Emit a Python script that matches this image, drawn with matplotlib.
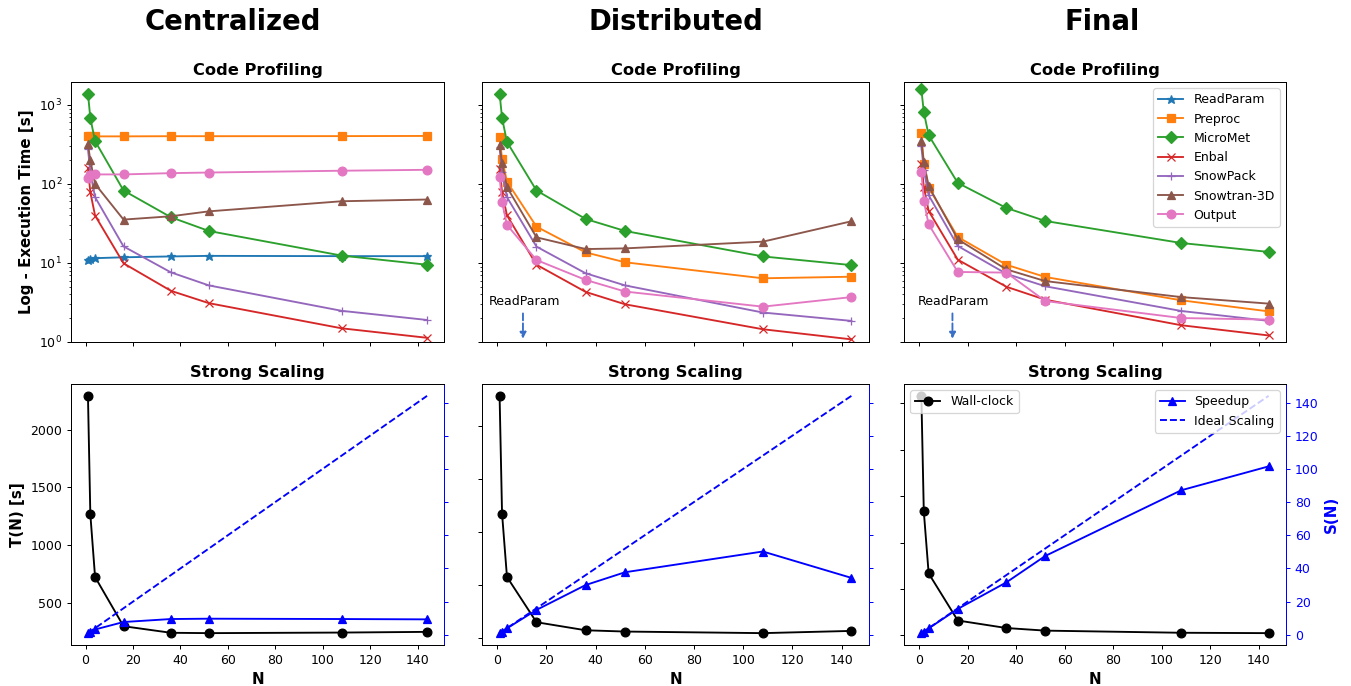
import matplotlib
matplotlib.use('Agg')
import matplotlib.pyplot as plt

# number of processes
n_procs = [1, 2, 4, 16, 36, 52, 108, 144]

# code profiling (seconds) per module, one dict per setup
cent = {
    'ReadParam':   [10.9, 11.3, 11.5, 11.8, 12.1, 12.3, 12.2, 12.2],
    'Preproc':     [400, 400, 400, 400, 402, 402, 403, 405],
    'MicroMet':    [1394, 684, 349, 82.6, 37.9, 25.4, 12.4, 9.5],
    'Enbal':       [160, 78.7, 39.8, 9.9, 4.44, 3.1, 1.49, 1.13],
    'SnowPack':    [280, 140, 68, 16.2, 7.6, 5.2, 2.48, 1.9],
    'Snowtran-3D': [317, 199, 100, 35.4, 39, 45, 60.4, 63.5],
    'Output':      [120, 131, 132, 132, 137, 139.5, 147, 151],
}
dist = {
    'ReadParam':   [0.6, 0.5, 0.45, 0.4, 0.4, 0.4, 0.4, 0.4],
    'Preproc':     [393, 208, 107, 28.8, 13.6, 10.2, 6.4, 6.7],
    'MicroMet':    [1394, 684, 340, 82.6, 36, 25.4, 12.1, 9.4],
    'Enbal':       [156, 79, 40, 9.5, 4.3, 3.0, 1.45, 1.08],
    'SnowPack':    [290, 140, 68, 16.1, 7.4, 5.2, 2.36, 1.85],
    'Snowtran-3D': [308, 184, 91, 21.1, 15, 15.3, 18.6, 33.7],
    'Output':      [122, 58.7, 30.3, 10.9, 6.1, 4.35, 2.8, 3.7],
}
final = {
    'ReadParam':   [0.6, 0.5, 0.45, 0.4, 0.4, 0.4, 0.4, 0.4],
    'Preproc':     [446, 181, 90, 21.3, 9.5, 6.65, 3.37, 2.44],
    'MicroMet':    [1578, 815, 413, 103, 49.7, 34, 17.9, 13.8],
    'Enbal':       [181, 92, 45.5, 11, 5.0, 3.43, 1.63, 1.21],
    'SnowPack':    [300, 150, 72, 16.4, 7.3, 5.07, 2.47, 1.85],
    'Snowtran-3D': [347, 190, 94, 19.9, 8.3, 5.9, 3.7, 3.06],
    'Output':      [142, 61, 30.8, 7.7, 7.55, 3.3, 2.01, 1.92],
}

# wall-clock and speedup
wall_cent = [2292, 1267, 723, 297, 240, 237, 242, 248]
wall_dist = [2283, 1173, 575, 148, 72, 60, 45, 66]
wall_final = [2579, 1336, 668, 161, 80, 52, 29, 25]
speed_cent = [1, 1.8, 3.2, 7.7, 9.5, 9.7, 9.5, 9.3]
speed_dist = [1, 1.9, 3.9, 15, 30, 37.7, 50.2, 34.3]
speed_final = [1, 1.93, 3.86, 15.6, 31.6, 47.5, 87.1, 101.5]

col_titles = ['Centralized', 'Distributed', 'Final']
markers = {'ReadParam': '*', 'Preproc': 's', 'MicroMet': 'D', 'Enbal': 'x',
           'SnowPack': '+', 'Snowtran-3D': '^', 'Output': 'o'}

W, H = 1351, 686
fig, axes = plt.subplots(2, 3, figsize=(W / 90, H / 90), dpi=90, sharex='col')

# axes boxes in pixels (left, right)
cols = [(71, 444), (482, 869), (904, 1286)]
rows = [(82, 342), (384, 645)]
for r, (top, bot) in enumerate(rows):
    for c, (l, rr) in enumerate(cols):
        axes[r, c].set_position([l / W, 1 - bot / H, (rr - l) / W, (bot - top) / H])

profiles = [cent, dist, final]
walls = [wall_cent, wall_dist, wall_final]
speeds = [speed_cent, speed_dist, speed_final]
title_x = [233, 676, 1102]

for c in range(3):
    ax = axes[0, c]
    for i, (name, vals) in enumerate(profiles[c].items()):
        ax.plot(n_procs, vals, marker=markers[name], color='C%d' % i, label=name,
                markersize=7)
    ax.set_yscale('log')
    ax.set_ylim(1, 1950)
    ax.set_title('Code Profiling', fontsize=13, fontweight='bold')
    if c > 0:
        ax.tick_params(labelleft=False)
    fig.text(title_x[c] / W, 1 - 22 / H, col_titles[c], fontsize=22,
             fontweight='bold', ha='center', va='center')

    # bottom row
    bx = axes[1, c]
    bx.plot(n_procs, walls[c], marker='o', color='black', markersize=7,
            label='Wall-clock')
    bx.set_title('Strong Scaling', fontsize=13, fontweight='bold')
    bx.set_xlabel('N', fontsize=12, fontweight='bold')
    if c > 0:
        bx.tick_params(labelleft=False)
    tw = bx.twinx()
    tw.set_position(bx.get_position())
    tw.plot(n_procs, speeds[c], marker='^', color='blue', markersize=7,
            label='Speedup')
    tw.plot(n_procs, n_procs, '--', color='blue', label='Ideal Scaling')
    tw.spines['right'].set_color('blue')
    tw.tick_params(axis='y', colors='blue')
    if c < 2:
        tw.tick_params(labelright=False)
    else:
        tw.set_ylabel('S(N)', fontsize=12, fontweight='bold', color='blue')
        bx.legend(loc='upper left')
        tw.legend(loc='upper right')

axes[0, 0].set_ylabel('Log - Execution Time [s]', fontsize=12, fontweight='bold')
axes[1, 0].set_ylabel('T(N) [s]', fontsize=12, fontweight='bold')
axes[0, 2].legend(loc='upper right')

# ReadParam falls below the plotted range
for ax, xa, xt in [(axes[0, 1], 10.5, 11.3), (axes[0, 2], 13.8, 14.2)]:
    ax.text(xt, 3.3, 'ReadParam', ha='center', va='center', fontsize=10)
    ax.annotate('', xy=(xa, 1.1), xytext=(xa, 2.3),
                arrowprops=dict(arrowstyle='-|>', linestyle='--', color='#3a6fc8',
                                lw=1.5, shrinkA=0, shrinkB=0))

fig.savefig('out.png', dpi=90)
